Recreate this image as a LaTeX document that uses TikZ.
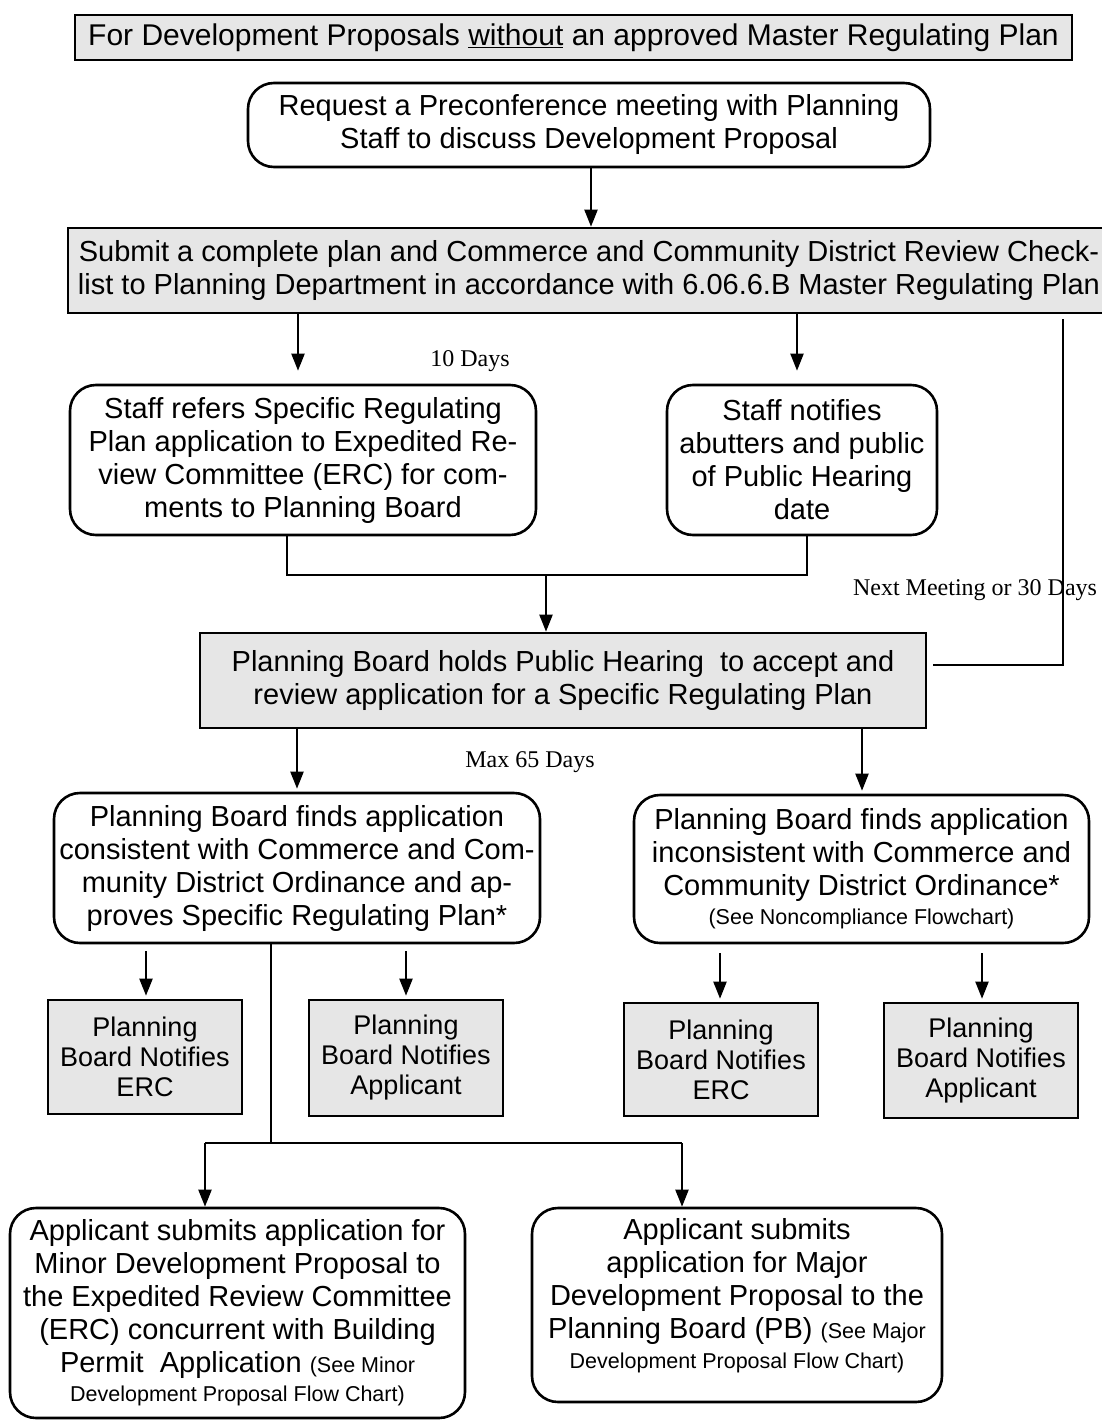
\documentclass[tikz,border=0pt]{standalone}
\usepackage{fontspec}
\setmainfont{Liberation Sans}
\newfontfamily\labelserif{Liberation Serif}
\usetikzlibrary{arrows.meta}
\definecolor{boxgray}{RGB}{230,230,230}
\newcommand{\smalltxt}{\fontsize{21.5}{29}\selectfont}
\begin{document}
\begin{tikzpicture}[x=1pt,y=-1pt,
  base/.style={draw=black,line width=2.6pt,inner sep=0pt,align=center,
    font=\fontsize{29}{33}\selectfont},
  graybox/.style={base,fill=boxgray},
  notebox/.style={graybox,minimum width=194pt,font=\fontsize{27}{30}\selectfont},
  roundbox/.style={base,fill=white,rounded corners=26pt},
  link/.style={line width=2pt},
  arr/.style={link,-{Triangle[length=17pt,width=13pt]}},
  dayslabel/.style={font=\labelserif\fontsize{24}{26}\selectfont,inner sep=0pt}]
\useasboundingbox (0,0) rectangle (1101,1421);

% boxes
\node[graybox,minimum width=997pt,minimum height=45pt,font=\fontsize{30}{33}\selectfont] (title) at (573.5,37.5)
  {For Development Proposals \underline{without} an approved Master Regulating Plan};
\node[roundbox,minimum width=682pt,minimum height=84pt] (request) at (589,125)
  {Request a Preconference meeting with Planning\\Staff to discuss Development Proposal};
\node[graybox,minimum width=1042pt,minimum height=85pt] (submit) at (589,270.5)
  {Submit a complete plan and Commerce and Community District Review Check-\\list to Planning Department in accordance with 6.06.6.B Master Regulating Plan};
\node[roundbox,minimum width=466pt,minimum height=150pt] (staffref) at (303,460)
  {Staff refers Specific Regulating\\Plan application to Expedited Re-\\view Committee (ERC) for com-\\ments to Planning Board};
\node[roundbox,minimum width=270pt,minimum height=150pt] (staffnot) at (802,460)
  {Staff notifies\\abutters and public\\of Public Hearing\\date};
\node[graybox,minimum width=726pt,minimum height=95pt] (pbhold) at (563,680.5)
  {Planning Board holds Public Hearing\ \ to accept and\\review application for a Specific Regulating Plan};
\node[roundbox,minimum width=486pt,minimum height=150pt] (consist) at (297,868)
  {Planning Board finds application\\consistent with Commerce and Com-\\munity District Ordinance and ap-\\proves Specific Regulating Plan*};
\node[roundbox,minimum width=455pt,minimum height=148pt] (inconsist) at (861.5,869)
  {Planning Board finds application\\inconsistent with Commerce and\\Community District Ordinance*\\[-4pt]{\smalltxt (See Noncompliance Flowchart)}};
\node[notebox,minimum height=114pt] (ercA) at (145,1057)
  {Planning\\Board Notifies\\ERC};
\node[notebox,minimum height=116pt] (appA) at (406,1058)
  {Planning\\Board Notifies\\Applicant};
\node[notebox,minimum height=113pt] (ercB) at (721,1059.5)
  {Planning\\Board Notifies\\ERC};
\node[notebox,minimum height=115pt] (appB) at (981,1060.5)
  {Planning\\Board Notifies\\Applicant};
\node[roundbox,minimum width=455pt,minimum height=210pt] (minor) at (237.5,1313)
  {Applicant submits application for\\Minor Development Proposal to\\the Expedited Review Committee\\(ERC) concurrent with Building\\Permit\ \ Application {\smalltxt (See Minor}\\[-4pt]{\smalltxt Development Proposal Flow Chart)}};
% extra text depth lifts the lines towards the top of the box
\node[roundbox,minimum width=410pt,minimum height=194pt,text depth=24pt] (major) at (737,1305)
  {Applicant submits\\application for Major\\Development Proposal to the\\Planning Board (PB) {\smalltxt (See Major}\\[-3pt]{\smalltxt Development Proposal Flow Chart)}};

% time labels
\node[dayslabel] (tenday) at (470,361) {10 Days};
\node[dayslabel] (nextmeet) at (975,590) {Next Meeting or 30 Days};
\node[dayslabel] (maxdays) at (530,762) {Max 65 Days};

% column markers for connectors
\coordinate (cReq) at (591,0);
\coordinate (cL) at (298,0);
\coordinate (cR) at (797,0);
\coordinate (cSide) at (1063,665);
\coordinate (jL) at (287,575);
\coordinate (jR) at (807,575);
\coordinate (jM) at (546,575);
\coordinate (dL) at (297,0);
\coordinate (dR) at (862,0);
\coordinate (n1) at (146,0);
\coordinate (n2) at (406,0);
\coordinate (n3) at (720,0);
\coordinate (n4) at (982,0);
\coordinate (sTrunk) at (271,1143);
\coordinate (sL) at (205,1143);
\coordinate (sR) at (682,1143);

% connectors
\draw[arr] (request.south -| cReq) -- (submit.north -| cReq);
\draw[arr,shorten >=13pt] (submit.south -| cL) -- (staffref.north -| cL);
\draw[arr,shorten >=13pt] (submit.south -| cR) -- (staffnot.north -| cR);
\draw[link,shorten <=5pt,shorten >=6pt] (submit.south -| cSide) -- (cSide) -- (pbhold.east |- cSide);
\draw[link] (staffref.south -| jL) -- (jL) -- (jR) -- (staffnot.south -| jR);
\draw[arr] (jM) -- (pbhold.north -| jM);
\draw[arr,shorten >=3pt] (pbhold.south -| dL) -- (consist.north -| dL);
\draw[arr,shorten >=3pt] (pbhold.south -| dR) -- (inconsist.north -| dR);
\draw[arr,shorten <=7pt,shorten >=3pt] (consist.south -| n1) -- (ercA.north -| n1);
\draw[arr,shorten <=7pt,shorten >=3pt] (consist.south -| n2) -- (appA.north -| n2);
\draw[arr,shorten <=9pt,shorten >=3pt] (inconsist.south -| n3) -- (ercB.north -| n3);
\draw[arr,shorten <=9pt,shorten >=3pt] (inconsist.south -| n4) -- (appB.north -| n4);
\draw[link] (consist.south -| sTrunk) -- (sTrunk);
\draw[link] (sL) -- (sR);
\draw[arr] (sL) -- (minor.north -| sL);
\draw[arr] (sR) -- (major.north -| sR);
\end{tikzpicture}
\end{document}
